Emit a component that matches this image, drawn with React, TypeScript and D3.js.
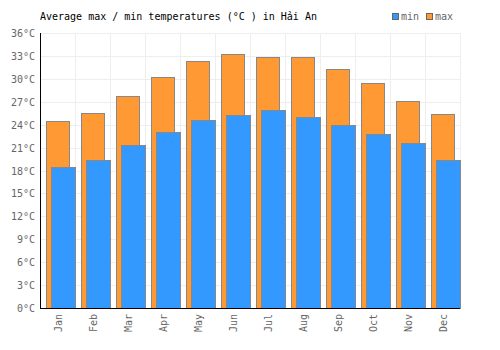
import React, { useRef, useEffect } from 'react';
import * as d3 from 'd3';

const months = ['Jan', 'Feb', 'Mar', 'Apr', 'May', 'Jun', 'Jul', 'Aug', 'Sep', 'Oct', 'Nov', 'Dec'];
const maxTemps = [24.5, 25.5, 27.8, 30.3, 32.4, 33.2, 32.9, 32.9, 31.3, 29.5, 27.1, 25.4];
const minTemps = [18.5, 19.4, 21.3, 23.0, 24.6, 25.3, 25.9, 25.0, 24.0, 22.8, 21.6, 19.4];
const yTicks = [0, 3, 6, 9, 12, 15, 18, 21, 24, 27, 30, 33, 36];

const FONT = '"DejaVu Sans Mono", monospace';

const App: React.FC = () => {
  const svgRef = useRef<SVGSVGElement>(null);
  const width = 500;
  const height = 350;

  useEffect(() => {
    if (!svgRef.current) return;
    const svg = d3.select(svgRef.current);
    svg.selectAll('*').remove();

    const left = 40, right = 460, top = 33, bottom = 308;

    const x = d3.scaleBand<string>().domain(months).range([left, right]);
    const y = d3.scaleLinear().domain([0, 36]).range([bottom, top]);

    // grid
    const grid = svg.append('g').attr('stroke', '#eeeeee').attr('stroke-width', 1);
    yTicks.forEach(t => {
      grid.append('line')
        .attr('x1', left).attr('x2', right)
        .attr('y1', Math.round(y(t)) + 0.5).attr('y2', Math.round(y(t)) + 0.5);
    });
    months.forEach((m, i) => {
      const xx = Math.round((x(m) as number) + x.bandwidth()) + 0.5;
      grid.append('line')
        .attr('x1', xx).attr('x2', xx)
        .attr('y1', top).attr('y2', bottom);
    });

    const bw = x.bandwidth();

    // max bars (behind)
    svg.append('g').selectAll('rect')
      .data(maxTemps)
      .join('rect')
      .attr('x', (d, i) => Math.round((x(months[i]) as number) + bw * 0.18) + 0.5)
      .attr('y', d => Math.round(y(d)) + 0.5)
      .attr('width', Math.round(bw * 0.66))
      .attr('height', d => Math.round(bottom - y(d)))
      .attr('fill', '#ff9933')
      .attr('stroke', '#888888')
      .attr('stroke-width', 1);

    // min bars (front)
    svg.append('g').selectAll('rect')
      .data(minTemps)
      .join('rect')
      .attr('x', (d, i) => Math.round((x(months[i]) as number) + bw * 0.32) + 0.5)
      .attr('y', d => Math.round(y(d)) + 0.5)
      .attr('width', Math.round(bw * 0.68))
      .attr('height', d => Math.round(bottom - y(d)))
      .attr('fill', '#3399ff')
      .attr('stroke', '#888888')
      .attr('stroke-width', 1);

    // axes lines
    svg.append('line')
      .attr('x1', left + 0.5).attr('x2', left + 0.5)
      .attr('y1', top).attr('y2', bottom + 0.5)
      .attr('stroke', '#000').attr('stroke-width', 1);
    svg.append('line')
      .attr('x1', left).attr('x2', right)
      .attr('y1', bottom + 0.5).attr('y2', bottom + 0.5)
      .attr('stroke', '#000').attr('stroke-width', 1);

    // y labels
    svg.append('g').selectAll('text')
      .data(yTicks)
      .join('text')
      .attr('x', 35)
      .attr('y', d => y(d) + 4)
      .attr('text-anchor', 'end')
      .attr('font-family', FONT)
      .attr('font-size', 10)
      .attr('fill', '#666666')
      .text(d => `${d}°C`);

    // x labels
    svg.append('g').selectAll('text')
      .data(months)
      .join('text')
      .attr('transform', d => `translate(${(x(d) as number) + bw / 2 + 4},${bottom + 6}) rotate(-90)`)
      .attr('text-anchor', 'end')
      .attr('font-family', FONT)
      .attr('font-size', 10)
      .attr('fill', '#666666')
      .text(d => d);

    // title
    svg.append('text')
      .attr('x', 40)
      .attr('y', 20)
      .attr('font-family', FONT)
      .attr('font-size', 10)
      .attr('fill', '#000')
      .text('Average max / min temperatures (°C ) in Hải An');

    // legend
    const legend = [
      { label: 'min', color: '#3399ff', x: 392 },
      { label: 'max', color: '#ff9933', x: 426 },
    ];
    legend.forEach(l => {
      svg.append('rect')
        .attr('x', l.x + 0.5).attr('y', 13.5)
        .attr('width', 6).attr('height', 6)
        .attr('fill', l.color)
        .attr('stroke', '#666666');
      svg.append('text')
        .attr('x', l.x + 9)
        .attr('y', 20)
        .attr('font-family', FONT)
        .attr('font-size', 10)
        .attr('fill', '#666666')
        .text(l.label);
    });
  }, []);

  return (
    <svg
      ref={svgRef}
      width={width}
      height={height}
      style={{ position: 'absolute', left: 0, top: 0, background: '#fff' }}
    />
  );
};

export default App;
